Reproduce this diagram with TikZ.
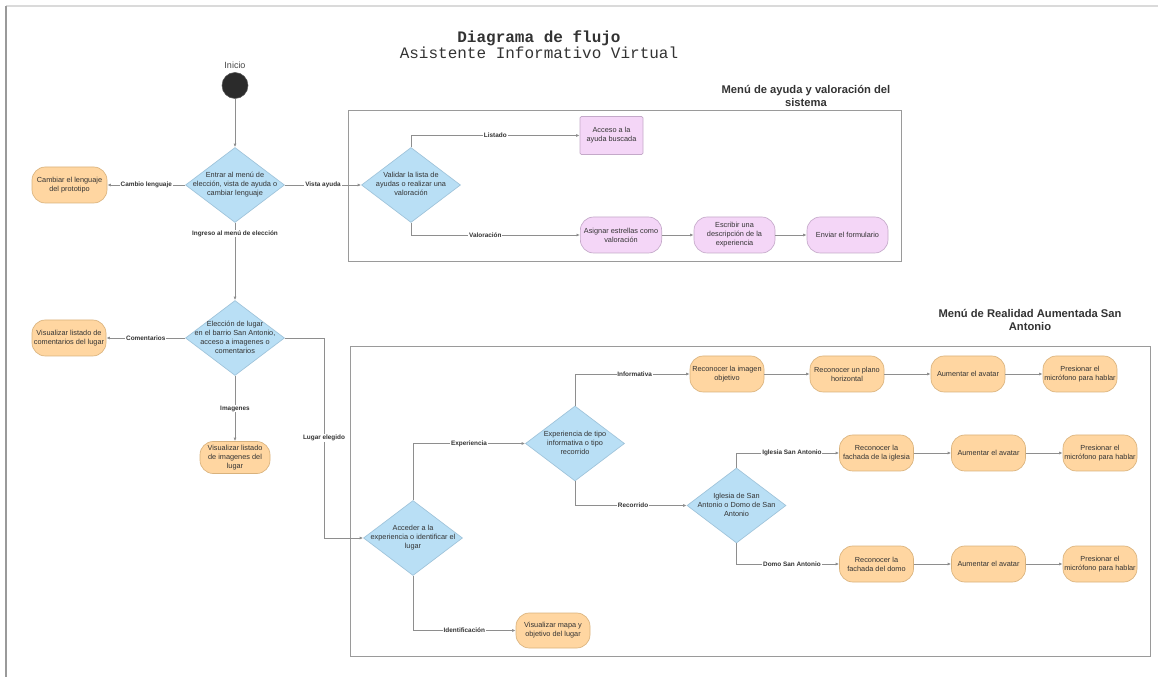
\documentclass[tikz,border=0pt]{standalone}
\usepackage{fontspec}
\setmainfont{Liberation Sans}
\setmonofont{Liberation Mono}
\usetikzlibrary{shapes.geometric,arrows.meta}
\definecolor{bfill}{HTML}{B9DFF5}
\definecolor{bline}{HTML}{9FC3DA}
\definecolor{ofill}{HTML}{FFD6A1}
\definecolor{oline}{HTML}{D9B27C}
\definecolor{pfill}{HTML}{F4D6F7}
\definecolor{pline}{HTML}{C4A9C9}
\definecolor{lcol}{HTML}{8E8E8E}
\definecolor{txt}{HTML}{333333}
\definecolor{dark}{HTML}{2B2B2B}
\definecolor{frame}{HTML}{9A9A9A}
\definecolor{frametop}{HTML}{DADADA}
\newcommand{\dtx}[1]{\makebox[0pt][c]{\begin{tabular}{@{}c@{}}#1\end{tabular}}}
\tikzset{
  every node/.style={font=\fontsize{5.5}{6.8}\selectfont, text=txt},
  dia/.style={diamond, draw=bline, fill=bfill, line width=0.5pt,
    minimum width=74.25pt, minimum height=56.25pt, inner sep=0pt},
  obox/.style={draw=oline, fill=ofill, rounded corners=10pt, line width=0.5pt,
    minimum width=55.5pt, minimum height=27pt, align=center, inner sep=1pt},
  pbox/.style={draw=pline, fill=pfill, rounded corners=10pt, line width=0.5pt,
    minimum width=61pt, minimum height=27pt, align=center, inner sep=1pt},
  pquad/.style={draw=pline, fill=pfill, rounded corners=1pt, line width=0.5pt,
    minimum width=47.25pt, minimum height=28.5pt, align=center, inner sep=1pt},
  conn/.style={draw=lcol, line width=0.55pt, -{Latex[length=2.6pt,width=2.2pt]}},
  lbl/.style={font=\bfseries\fontsize{4.8}{5.6}\selectfont, fill=white, inner sep=0.6pt, text=txt},
  sect/.style={font=\bfseries\fontsize{8.4}{9.8}\selectfont, align=center, text=txt},
  boxframe/.style={draw=frame, line width=0.6pt},
}
\begin{document}
\begin{tikzpicture}[x=0.75pt,y=-0.75pt]
\useasboundingbox (0,0) rectangle (1158,677);
% outer frame
\draw[frametop, line width=1.1pt] (6,6) -- (1158,6);
\draw[frame, line width=0.8pt] (6,6) -- (6,677);
% title
\node[align=center, font=\ttfamily\fontsize{12}{12}\selectfont, text=txt] (title) at (539,45)
  {\textbf{Diagrama de flujo}\\Asistente Informativo Virtual};
% start
\node[font=\fontsize{6.75}{8}\selectfont, text=txt!90] (initxt) at (235,65) {Inicio};
\node[circle, fill=dark, draw=dark!80, minimum size=19.5pt, inner sep=0pt] (ini) at (235,85.5) {};
\node[dia] (d1) at (235,185) {\dtx{Entrar al menú de\\elección, vista de ayuda o\\cambiar lenguaje}};
\node[obox, minimum width=56.25pt] (cambio) at (69.5,185) {Cambiar el lenguaje\\del prototipo};
% help menu
\draw[boxframe] (348,110) rectangle (901,261);
\node[sect] (helptitle) at (806,95.5) {Menú de ayuda y valoración del\\sistema};
\node[dia] (d2) at (411,185) {\dtx{Validar la lista de\\ayudas o realizar una\\valoración}};
\node[pquad] (acceso) at (611.5,135.5) {Acceso a la\\ayuda buscada};
\node[pbox] (asignar) at (621,235) {Asignar estrellas como\\valoración};
\node[pbox, minimum width=60.75pt] (escribir) at (734.5,235) {Escribir una\\descripción de la\\experiencia};
\node[pbox, minimum width=60.75pt] (enviar) at (847.5,235) {Enviar el formulario};
% choice
\node[dia] (d3) at (235,338) {\dtx{Elección de lugar\\en el barrio San Antonio,\\acceso a imagenes o\\comentarios}};
\node[obox] (coment) at (69,338) {Visualizar listado de\\comentarios del lugar};
\node[obox, minimum width=52.5pt, minimum height=24pt] (imag) at (235,457.5) {Visualizar listado\\de imagenes del\\lugar};
% AR menu
\draw[boxframe] (350,346) rectangle (1150,656);
\node[sect] (artitle) at (1030,320) {Menú de Realidad Aumentada San\\Antonio};
\node[dia] (d4) at (413,538) {\dtx{Acceder a la\\experiencia o identificar el\\lugar}};
\node[dia] (d5) at (575,443.5) {\dtx{Experiencia de tipo\\informativa o tipo\\recorrido}};
\node[obox, minimum height=26.25pt] (mapa) at (553,630.5) {Visualizar mapa y\\objetivo del lugar};
\node[obox] (rimg) at (727,374) {Reconocer la imagen\\objetivo};
\node[obox] (rplano) at (847,374) {Reconocer un plano\\horizontal};
\node[obox] (aum1) at (968,374) {Aumentar el avatar};
\node[obox] (pres1) at (1080,374) {Presionar el\\micrófono para hablar};
\node[dia] (d6) at (736.5,505.5) {\dtx{Iglesia de San\\Antonio o Domo de San\\Antonio}};
\node[obox] (rfach) at (876.5,453) {Reconocer la\\fachada de la iglesia};
\node[obox] (aum2) at (988.5,453) {Aumentar el avatar};
\node[obox] (pres2) at (1100,453) {Presionar el\\micrófono para hablar};
\node[obox] (rdomo) at (876.5,564) {Reconocer la\\fachada del domo};
\node[obox] (aum3) at (988.5,564) {Aumentar el avatar};
\node[obox] (pres3) at (1100,564) {Presionar el\\micrófono para hablar};
\coordinate (lgc) at (324,338);
% connectors
\draw[conn] (ini) -- (d1.north);
\draw[conn] (d1.west) -- node[lbl]{Cambio lenguaje} (cambio.east);
\draw[conn] (d1.east) -- node[lbl]{Vista ayuda} (d2.west);
\draw[conn] (d1.south) -- node[lbl, pos=0.14]{Ingreso al menú de elección} (d3.north);
\draw[conn] (d2.north) |- node[lbl, pos=0.75]{Listado} (acceso.west);
\draw[conn] (d2.south) |- node[lbl, pos=0.72]{Valoración} (asignar.west);
\draw[conn] (asignar) -- (escribir);
\draw[conn] (escribir) -- (enviar);
\draw[conn] (d3.west) -- node[lbl]{Comentarios} (coment.east);
\draw[conn] (d3.south) -- node[lbl]{Imagenes} (imag.north);
\draw[conn] (d3.east) -- (lgc) |- node[lbl, pos=0.25]{Lugar elegido} (d4.west);
\draw[conn] (d4.north) |- node[lbl, pos=0.75]{Experiencia} (d5.west);
\draw[conn] (d4.south) |- node[lbl, pos=0.75]{Identificación} (mapa.west);
\draw[conn] (d5.north) |- node[lbl, pos=0.76]{Informativa} (rimg.west);
\draw[conn] (d5.south) |- node[lbl, pos=0.76]{Recorrido} (d6.west);
\draw[conn] (rimg) -- (rplano);
\draw[conn] (rplano) -- (aum1);
\draw[conn] (aum1) -- (pres1);
\draw[conn] (d6.north) |- node[lbl, pos=0.77]{Iglesia San Antonio} (rfach.west);
\draw[conn] (rfach) -- (aum2);
\draw[conn] (aum2) -- (pres2);
\draw[conn] (d6.south) |- node[lbl, pos=0.77]{Domo San Antonio} (rdomo.west);
\draw[conn] (rdomo) -- (aum3);
\draw[conn] (aum3) -- (pres3);
\end{tikzpicture}
\end{document}
